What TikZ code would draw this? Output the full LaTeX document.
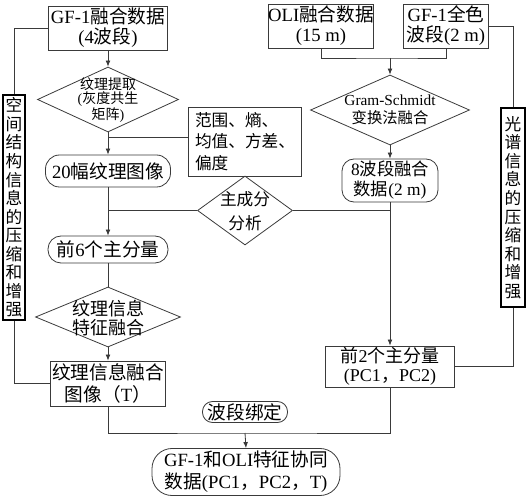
\documentclass[tikz,border=0pt]{standalone}
\usepackage{fontspec}
\setmainfont{Liberation Serif}
\newfontfamily\cjk{Noto Sans CJK SC}
\usetikzlibrary{shapes.geometric,arrows.meta}
\newcommand\zh[1]{{\cjk #1}}
\newcommand\fs[2]{\fontsize{#1}{#2}\selectfont}
\definecolor{ln}{HTML}{3A3A3A}
\tikzset{
  box/.style={draw=ln, line width=0.6pt, inner sep=0pt, align=center},
  rbox/.style={box, rounded corners=#1},
  rbox/.default=9pt,
  dia/.style={draw=ln, line width=0.6pt, diamond, inner sep=0pt},
  vbox/.style={draw=black, line width=1.3pt, inner sep=0pt, align=center},
  lbl/.style={inner sep=0pt, align=center},
  con/.style={draw=ln, line width=0.6pt},
  arr/.style={con, -{Latex[length=4.5pt,width=3.6pt]}},
}
\begin{document}
\begin{tikzpicture}[x=0.75pt,y=-0.75pt]
\useasboundingbox (0,0) rectangle (529,499);
% top boxes
\node[box, minimum width=119*0.75pt, minimum height=44*0.75pt, font=\fs{14}{15}] (gf1) at (108,28) {GF-1\zh{融合数据}\\(4\zh{波段})};
\node[box, minimum width=104*0.75pt, minimum height=44*0.75pt, font=\fs{14}{15}] (oli) at (321,26) {OLI\zh{融合数据}\\(15 m)};
\node[box, minimum width=85*0.75pt, minimum height=44*0.75pt, font=\fs{14}{15}] (pan) at (446,26) {GF-1\zh{全色}\\\zh{波段}(2 m)};
% left column
\node[dia, minimum width=141*0.75pt, minimum height=65*0.75pt] (d1) at (108,99.5) {};
\node[lbl, font=\fs{10.5}{10.5}] at (108,100) {\zh{纹理提取}\\(\zh{灰度共生}\\\zh{矩阵})};
\node[box, minimum width=113*0.75pt, minimum height=69*0.75pt, align=left, font=\cjk\fs{12.5}{16}] (fan) at (245,141.5) {范围、熵、\\均值、方差、\\偏度};
\node[rbox=10.5pt, minimum width=125*0.75pt, minimum height=32*0.75pt, font=\fs{14}{16}] (t20) at (108,171) {20\zh{幅纹理图像}};
\node[rbox=9.75pt, minimum width=120*0.75pt, minimum height=27*0.75pt, font=\fs{14}{16}] (p6) at (108,249.5) {\zh{前}6\zh{个主分量}};
\node[dia, minimum width=145*0.75pt, minimum height=60*0.75pt] (d2) at (108,317) {};
\node[lbl, font=\cjk\fs{13.5}{14}] at (108,318) {纹理信息\\特征融合};
\node[box, minimum width=115*0.75pt, minimum height=45*0.75pt, font=\fs{14}{16.5}] (tfuse) at (108,383.5) {\zh{纹理信息融合}\\\zh{图像（}T\zh{）}};
% middle
\node[dia, minimum width=95*0.75pt, minimum height=69*0.75pt] (pca) at (245,210.5) {};
\node[lbl, font=\cjk\fs{12.5}{18}] at (245,211) {主成分\\分析};
\node[rbox=7.5pt, minimum width=85*0.75pt, minimum height=21*0.75pt, font=\cjk\fs{14}{16}] (bind) at (245,412) {波段绑定};
\node[rbox=15pt, minimum width=188*0.75pt, minimum height=47*0.75pt, font=\fs{14}{16.5}] (final) at (246,472) {GF-1\zh{和}OLI\zh{特征协同}\\\zh{数据}(PC1\zh{，}PC2\zh{，}T)};
% right column
\node[dia, minimum width=159*0.75pt, minimum height=70*0.75pt] (gs) at (390,110) {};
\node[lbl, font=\fs{11.5}{13.5}] at (390,110) {Gram-Schmidt\\\zh{变换法融合}};
\node[rbox=9pt, minimum width=96*0.75pt, minimum height=43*0.75pt, font=\fs{13}{15}] (b8) at (390,180.5) {8\zh{波段融合}\\\zh{数据}(2 m)};
\node[box, minimum width=129*0.75pt, minimum height=41*0.75pt, font=\fs{13.5}{14.5}] (p2) at (390,366.5) {\zh{前}2\zh{个主分量}\\(PC1\zh{，}PC2)};
% vertical side boxes
\node[vbox, minimum width=22*0.75pt, minimum height=225*0.75pt, font=\cjk\fs{12.5}{13.9}] (lv) at (14,207.5) {空\\间\\结\\构\\信\\息\\的\\压\\缩\\和\\增\\强};
\node[vbox, minimum width=24*0.75pt, minimum height=199*0.75pt, font=\cjk\fs{12.5}{13.9}] (rv) at (513,207.5) {光\\谱\\信\\息\\的\\压\\缩\\和\\增\\强};
% junctions
\coordinate (j0) at (390,58);
\coordinate (j1) at (108,137);
\coordinate (j2) at (245,433);
% connectors
\draw[arr] (gf1.south) -- (d1.north);
\draw[arr] (d1.south) -- (t20.north);
\draw[con] (fan.west |- j1) -- (j1);
\draw[arr] (t20.south) -- (p6.north);
\draw[con] (pca.west) -- (pca.west -| t20.south);
\draw[con] (pca.east) -- (pca.east -| b8.south);
\draw[con] (oli.south) |- (j0) -| (pan.south);
\draw[arr] (j0) -- (gs.north);
\draw[arr] (gs.south) -- (b8.north);
\draw[arr] (b8.south) -- (p2.north);
\draw[con] (p6.south) -- (d2.north);
\draw[arr] (d2.south) -- (tfuse.north);
\draw[con] (gf1.west) -| (lv.north);
\draw[con] (lv.south) |- (tfuse.west);
\draw[con] (pan.east) -| (rv.north);
\draw[con] (rv.south) |- (p2.east);
\draw[con] (tfuse.south) |- (j2) -| (p2.south);
\draw[arr] (j2) -- (final.north);
\end{tikzpicture}
\end{document}
